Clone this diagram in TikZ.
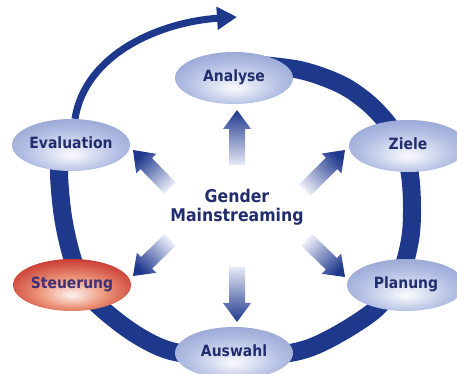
\documentclass[tikz,border=0pt]{standalone}
\usepackage{fontspec}
\setmainfont{DejaVu Sans Condensed}
\usetikzlibrary{arrows.meta,calc,shapes.geometric,backgrounds}

\definecolor{gmblau}{RGB}{30,56,140}
\definecolor{gmschrift}{RGB}{33,45,108}
\definecolor{gmlila}{RGB}{62,48,118}
\definecolor{gmrand}{RGB}{106,124,188}
\definecolor{gmmitte}{RGB}{178,190,227}
\definecolor{gmhell}{RGB}{230,233,246}
\definecolor{gmrot}{RGB}{186,18,18}
\definecolor{gmrosa}{RGB}{236,150,122}

\pgfdeclareradialshading{phaseblau}{\pgfpoint{0bp}{-10bp}}{%
  color(0bp)=(white!94!gmmitte); color(20bp)=(gmmitte); color(50bp)=(gmrand)}
\pgfdeclareradialshading{phaserot}{\pgfpoint{0bp}{-10bp}}{%
  color(0bp)=(white!88!gmrosa); color(14bp)=(gmrosa); color(32bp)=(gmrot!80!gmrosa);
  color(50bp)=(gmrot)}

\begin{document}
\begin{tikzpicture}[
  x=1pt, y=1pt,
  phase/.style={ellipse, shading=phaseblau, minimum width=118pt, minimum height=52pt,
    inner sep=0pt, text height=11pt, text depth=3pt, text=gmschrift,
    font=\bfseries\fontsize{15.5}{18}\selectfont},
  ring/.style={draw=gmblau, line width=18pt},
  bogen/.style={draw=gmblau, line width=7pt, -{Triangle[length=20pt, width=22pt]}},
  pfeil/.style={top color=gmblau, bottom color=gmhell}
]
\useasboundingbox (0,0) rectangle (457,374);

%% ===== Phasen =====
\node[phase] (ana) at (234,296) {Analyse};
\node[phase] (zie) at (408,228) {Ziele};
\node[phase] (pla) at (406,89) {Planung};
\node[phase] (aus) at (234,21) {Auswahl};
\node[phase, shading=phaserot, text=gmlila] (ste) at (72,89) {Steuerung};
\node[phase] (eva) at (71,229) {Evaluation};

\node[align=center, text=gmschrift, font=\bfseries\fontsize{17.5}{19}\selectfont]
  (gm) at (237,167) {Gender\\Mainstreaming};

%% ===== Pfeile von der Mitte =====
\coordinate (tAna) at (237,209); \coordinate (hAna) at (237,264);
\coordinate (tAus) at (237,107); \coordinate (hAus) at (237,52);
\coordinate (tEva) at (170,186); \coordinate (hEva) at (133,224);
\coordinate (tZie) at (305,184); \coordinate (hZie) at (345,224);
\coordinate (tSte) at (170,134); \coordinate (hSte) at (133,98);
\coordinate (tPla) at (307,134); \coordinate (hPla) at (345,97);

\foreach \t/\h/\w in {tAna/hAna/0, tAus/hAus/180, tEva/hEva/45,
                      tZie/hZie/-45, tSte/hSte/135, tPla/hPla/-135}{
  \coordinate (kb) at ($(\h)!19pt!(\t)$);
  \shade[pfeil, shading angle=\w]
    ($(\t)!8pt!-90:(\h)$) -- ($(kb)!8pt!90:(\t)$) -- ($(kb)!14pt!90:(\t)$)
    -- (\h) -- ($(kb)!14pt!-90:(\t)$) -- ($(kb)!8pt!-90:(\t)$)
    -- ($(\t)!8pt!90:(\h)$) -- cycle;
}

%% ===== Kreislauf =====
\coordinate (ende) at (237,357);
\begin{scope}[on background layer]
\draw[ring] plot[smooth, tension=0.55] coordinates {
  (250,310) (300,304) (340,290) (367,272) (388,250) (403,226) (410,199)
  (412,166) (410,134) (400,99) (377,66) (333,37) (295,22) (234,16)
  (175,22) (140,37) (107,61) (85,84) (72,117) (63,157) (59,201) (62,224)};
\draw[bogen] (eva) .. controls (85,320) and (160,352) .. (ende);
\end{scope}
\end{tikzpicture}
\end{document}
